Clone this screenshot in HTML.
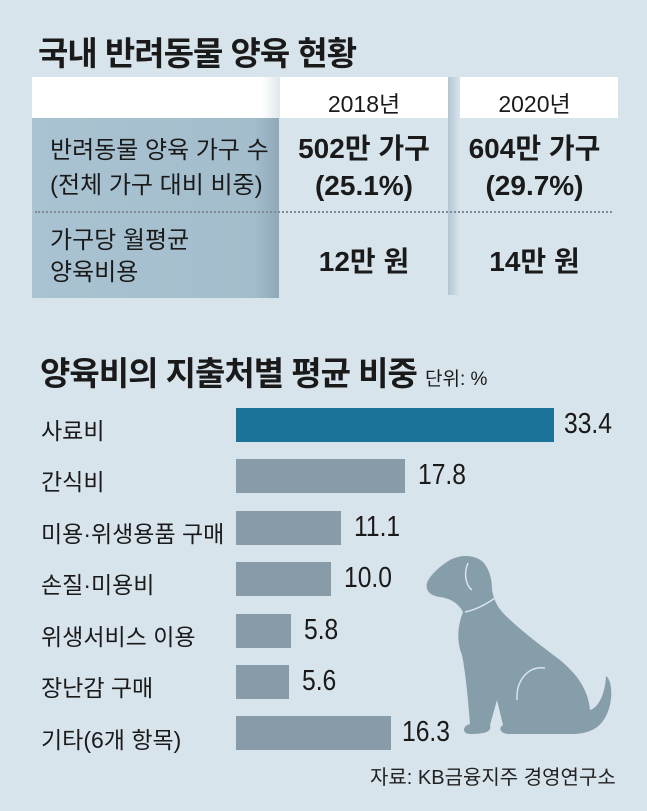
<!DOCTYPE html>
<html><head><meta charset="utf-8"><style>
body{margin:0;width:647px;height:811px;background:#d8e4ec;font-family:"Liberation Sans","Noto Sans CJK KR",sans-serif;color:#1a1a1a;position:relative;overflow:hidden}
.a{position:absolute;white-space:nowrap}
.t{font-size:33px;font-weight:bold;letter-spacing:-1px}
.c{text-align:center}
.lab{font-size:23px;left:41px}
.val{font-size:26px}
.n{display:inline-block;transform:scaleX(0.85);transform-origin:left;font-size:29px}
.bar{position:absolute;left:236px;height:34px;background:#879ca8}
</style></head><body>
<div class="a t" style="left:38px;top:27px">국내 반려동물 양육 현황</div>
<div class="a" style="left:32px;top:77px;width:586px;height:41px;background:#fff"></div>
<div class="a" style="left:32px;top:118px;width:247px;height:180px;background:linear-gradient(90deg,#a9c3d2,#a3bdcc 90%,#8fa9b9)"></div>
<div class="a" style="left:262px;top:77px;width:18px;height:41px;background:linear-gradient(90deg,#fff,#dfe7ec)"></div>
<div class="a" style="left:448px;top:77px;width:12px;height:218px;background:linear-gradient(90deg,#b3c7d3,#d8e4ec)"></div>
<div class="a" style="left:35px;top:211px;width:577px;border-top:2px dotted #7d8c96"></div>
<div class="a c" style="left:280px;width:168px;top:85px;font-size:23px">2018년</div>
<div class="a c" style="left:451px;width:167px;top:85px;font-size:23px">2020년</div>
<div class="a" style="left:50px;top:133px;font-size:24px;line-height:35px">반려동물 양육 가구 수<br>(전체 가구 대비 비중)</div>
<div class="a c val" style="left:280px;width:168px;top:130px;line-height:37px;font-size:28px;font-weight:bold">502만 가구<br>(25.1%)</div>
<div class="a c val" style="left:451px;width:167px;top:130px;line-height:37px;font-size:28px;font-weight:bold">604만 가구<br>(29.7%)</div>
<div class="a" style="left:50px;top:225px;font-size:24px;line-height:32px">가구당 월평균<br>양육비용</div>
<div class="a c val" style="left:280px;width:168px;top:240px;font-size:28px;font-weight:bold">12만 원</div>
<div class="a c val" style="left:451px;width:167px;top:240px;font-size:28px;font-weight:bold">14만 원</div>

<div class="a t" style="left:40px;top:347px">양육비의 지출처별 평균 비중 <span style="font-size:19px;font-weight:normal;letter-spacing:0">단위: %</span></div>

<div class="a lab" style="top:412px">사료비</div><div class="bar" style="top:408px;width:318px;background:#1b7399"></div><div class="a n" style="left:564px;top:408px">33.4</div>
<div class="a lab" style="top:463px">간식비</div><div class="bar" style="top:459px;width:169px"></div><div class="a n" style="left:418px;top:459px">17.8</div>
<div class="a lab" style="top:515px">미용·위생용품 구매</div><div class="bar" style="top:511px;width:105px"></div><div class="a n" style="left:354px;top:511px">11.1</div>
<div class="a lab" style="top:566px">손질·미용비</div><div class="bar" style="top:562px;width:95px"></div><div class="a n" style="left:344px;top:562px">10.0</div>
<div class="a lab" style="top:618px">위생서비스 이용</div><div class="bar" style="top:614px;width:55px"></div><div class="a n" style="left:304px;top:614px">5.8</div>
<div class="a lab" style="top:669px">장난감 구매</div><div class="bar" style="top:665px;width:53px"></div><div class="a n" style="left:302px;top:665px">5.6</div>
<div class="a lab" style="top:721px">기타(6개 항목)</div><div class="bar" style="top:716px;width:155px"></div><div class="a n" style="left:402px;top:716px">16.3</div>

<svg class="a" style="left:0;top:0" width="647" height="811">
<path fill="#869daa" d="M427,583 C430,575 440,566 450,560 C462,554 475,555 483,562 C490,570 492,580 492,590 C494,600 497,607 505,615 C520,630 540,645 560,660 C578,675 588,690 590,710 C598,708 605,695 606,676 C612,680 614,700 606,716 C600,728 590,733 575,734 L510,734 C500,734 498,728 503,725 L497,700 L490,725 C492,732 485,734 470,734 C462,734 462,726 470,724 C468,700 466,675 462,655 C456,640 458,625 463,612 C458,602 448,598 440,597 C432,596 425,592 427,583 Z"/>
<path fill="none" stroke="#d8e4ec" stroke-width="1.5" d="M465,612 C475,610 485,605 495,598 M545,668 C528,666 516,680 517,700 M468,563 C464,572 465,585 472,590"/>
</svg>
<div class="a" style="left:370px;top:761px;font-size:20px;color:#222">자료: KB금융지주 경영연구소</div>
</body></html>
